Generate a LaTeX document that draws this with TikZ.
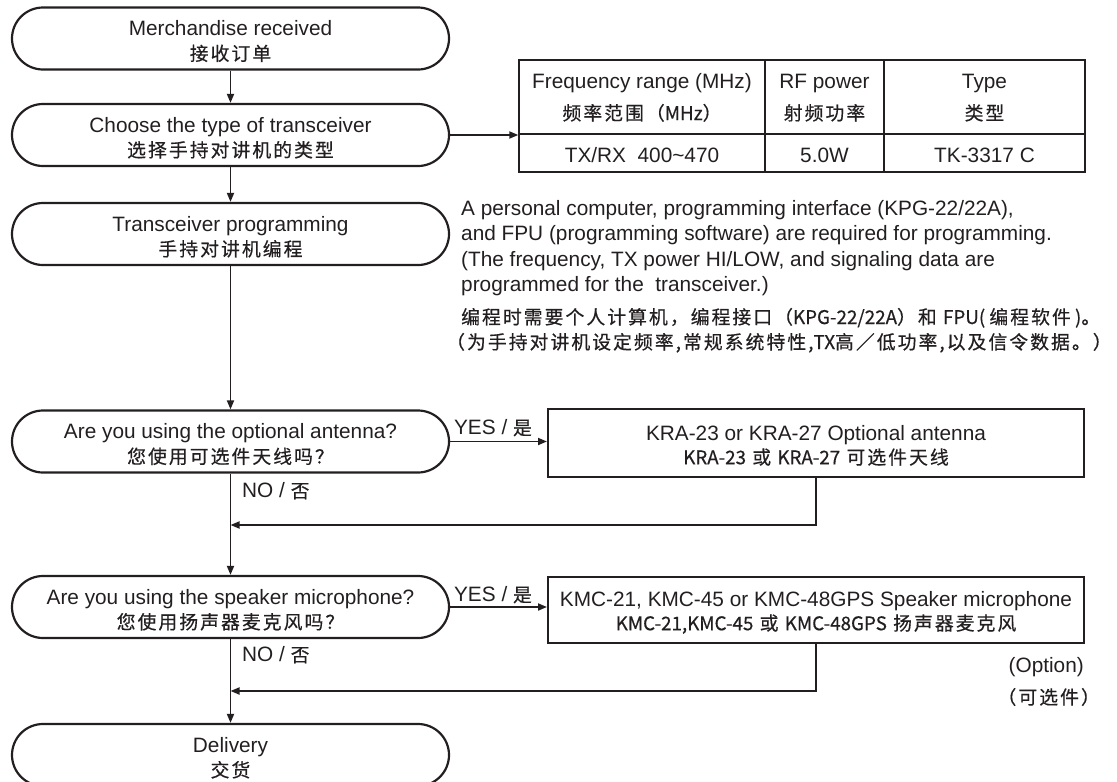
\documentclass[tikz,border=0pt]{standalone}
\usepackage{fontspec}
\setmainfont{Liberation Sans}
\newfontfamily\cjk[LetterSpace=11,FakeBold=0.5]{Noto Sans CJK SC}
\newfontfamily\cjkn[FakeBold=0.5]{Noto Sans CJK SC}
\usetikzlibrary{arrows.meta,calc}
\definecolor{ink}{RGB}{35,31,32}
\newcommand\zh[1]{{\cjk\fontsize{18.8}{25}\selectfont #1}}
\newcommand\zl[1]{{\cjkn #1}}
\begin{document}
\begin{tikzpicture}[x=1pt,y=-1pt,
  every node/.style={text=ink},
  term/.style={draw=ink, line width=2.2pt, rounded corners=31pt, minimum width=437pt,
    minimum height=62pt, inner sep=0pt, align=center, font=\fontsize{20.8}{24.5}\selectfont},
  optbox/.style={draw=ink, line width=2pt, minimum width=536pt, inner sep=0pt,
    align=center, font=\fontsize{20.8}{24}\selectfont},
  lbl/.style={inner sep=0pt, font=\fontsize{20.8}{25}\selectfont},
  conn/.style={draw=ink, line width=1.8pt},
  arr/.style={conn, -{Triangle[length=9pt,width=7pt]}},
  grid/.style={draw=ink, line width=1.4pt}
]
\useasboundingbox (0,0) rectangle (1117,782);
\clip (0,0) rectangle (1117,782);

% flow terminals
\node[term] (s1) at (230.5,38.5) {\rule{0pt}{21pt}Merchandise received\\\zh{接收订单}};
\node[term] (s2) at (230.5,135) {\rule{0pt}{21pt}Choose the type of transceiver\\\zh{选择手持对讲机的类型}};
\node[term] (s3) at (230.5,234) {\rule{0pt}{21pt}Transceiver programming\\\zh{手持对讲机编程}};
\node[term] (s4) at (230.5,441.5) {\rule{0pt}{21pt}Are you using the optional antenna?\\\zh{您使用可选件天线吗？}};
\node[term] (s5) at (230.5,607) {\rule{0pt}{21pt}Are you using the speaker microphone?\\\zh{您使用扬声器麦克风吗？}};
\node[term] (s6) at (230.5,755) {\rule{0pt}{21pt}Delivery\\\zh{交货}};

% table
\node[grid, minimum width=566pt, minimum height=112pt, inner sep=0pt] (tbl) at (802,116) {};
\draw[grid] (519,134) -- (1085,134);
\draw[grid] (765,60) -- (765,172);
\draw[grid] (884,60) -- (884,172);
\node[lbl,anchor=base] (h1a) at (642,88) {Frequency range (MHz)};
\node[lbl,anchor=base] (h1b) at (642,120) {\zh{频率范围（\zl{MHz}）}};
\node[lbl,anchor=base] (h2a) at (824.5,88) {RF power};
\node[lbl,anchor=base] (h2b) at (824.5,120) {\zh{射频功率}};
\node[lbl,anchor=base] (h3a) at (984.5,88) {Type};
\node[lbl,anchor=base] (h3b) at (984.5,120) {\zh{类型}};
\node[lbl,anchor=base] (r1) at (642,162) {TX/RX\ \ 400\textasciitilde 470};
\node[lbl,anchor=base] (r2) at (824.5,162) {5.0W};
\node[lbl,anchor=base] (r3) at (984.5,162) {TK-3317 C};

% description
\node[lbl,anchor=north west,align=left,font=\fontsize{20.8}{25.5}\selectfont] (desc) at (461,200)
 {A personal computer, programming interface (KPG-22/22A),\\
  and FPU (programming software) are required for programming.\\
  (The frequency, TX power HI/LOW, and signaling data are\\
  programmed for the\ \ transceiver.)};
\node[lbl,anchor=base west] (dz1) at (461,324)
 {\zh{编程时需要个人计算机，编程接口（\zl{KPG-22/22A}）和 \zl{FPU( }编程软件\zl{ )}。}};
\node[lbl,anchor=base west] (dz2) at (446,349)
 {\zh{（为手持对讲机设定频率,常规系统特性,\zl{TX}高／低功率,以及信令数据。）}};

% option boxes
\node[optbox, minimum height=68pt] (kra) at (816,443)
 {\rule{0pt}{20pt}KRA-23 or KRA-27 Optional antenna\\\zh{\zl{KRA-23} 或 \zl{KRA-27} 可选件天线}};
\node[optbox, minimum height=66pt] (kmc) at (816,610)
 {\rule{0pt}{20pt}KMC-21, KMC-45 or KMC-48GPS Speaker microphone\\\zh{\zl{KMC-21,KMC-45} 或 \zl{KMC-48GPS} 扬声器麦克风}};

% labels
\node[lbl] (y1) at (493,428) {YES / \zh{是}};
\node[lbl] (y2) at (493,595) {YES / \zh{是}};
\node[lbl,anchor=west] (n1) at (242,491) {NO /\ \zh{否}};
\node[lbl,anchor=west] (n2) at (242,655) {NO /\ \zh{否}};
\node[lbl,anchor=east] (op1) at (1084,667) {(Option)};
\node[lbl,anchor=east] (op2) at (1100,697) {\zh{（可选件）}};

% connectors
\coordinate (j1) at (230.5,525);
\coordinate (j2) at (230.5,691);
\draw[arr] (s1) -- (s2);
\draw[arr] (s2.east) -- (s2.east -| tbl.west);
\draw[arr] (s2) -- (s3);
\draw[arr] (s3) -- (s4);
\draw[arr] (s4.east) -- (s4.east -| kra.west);
\draw[arr] (kra.south) |- (j1);
\draw[arr] (s4) -- (s5);
\draw[arr] (s5.east) -- (s5.east -| kmc.west);
\draw[arr] (kmc.south) |- (j2);
\draw[arr] (s5) -- (s6);
\end{tikzpicture}
\end{document}
